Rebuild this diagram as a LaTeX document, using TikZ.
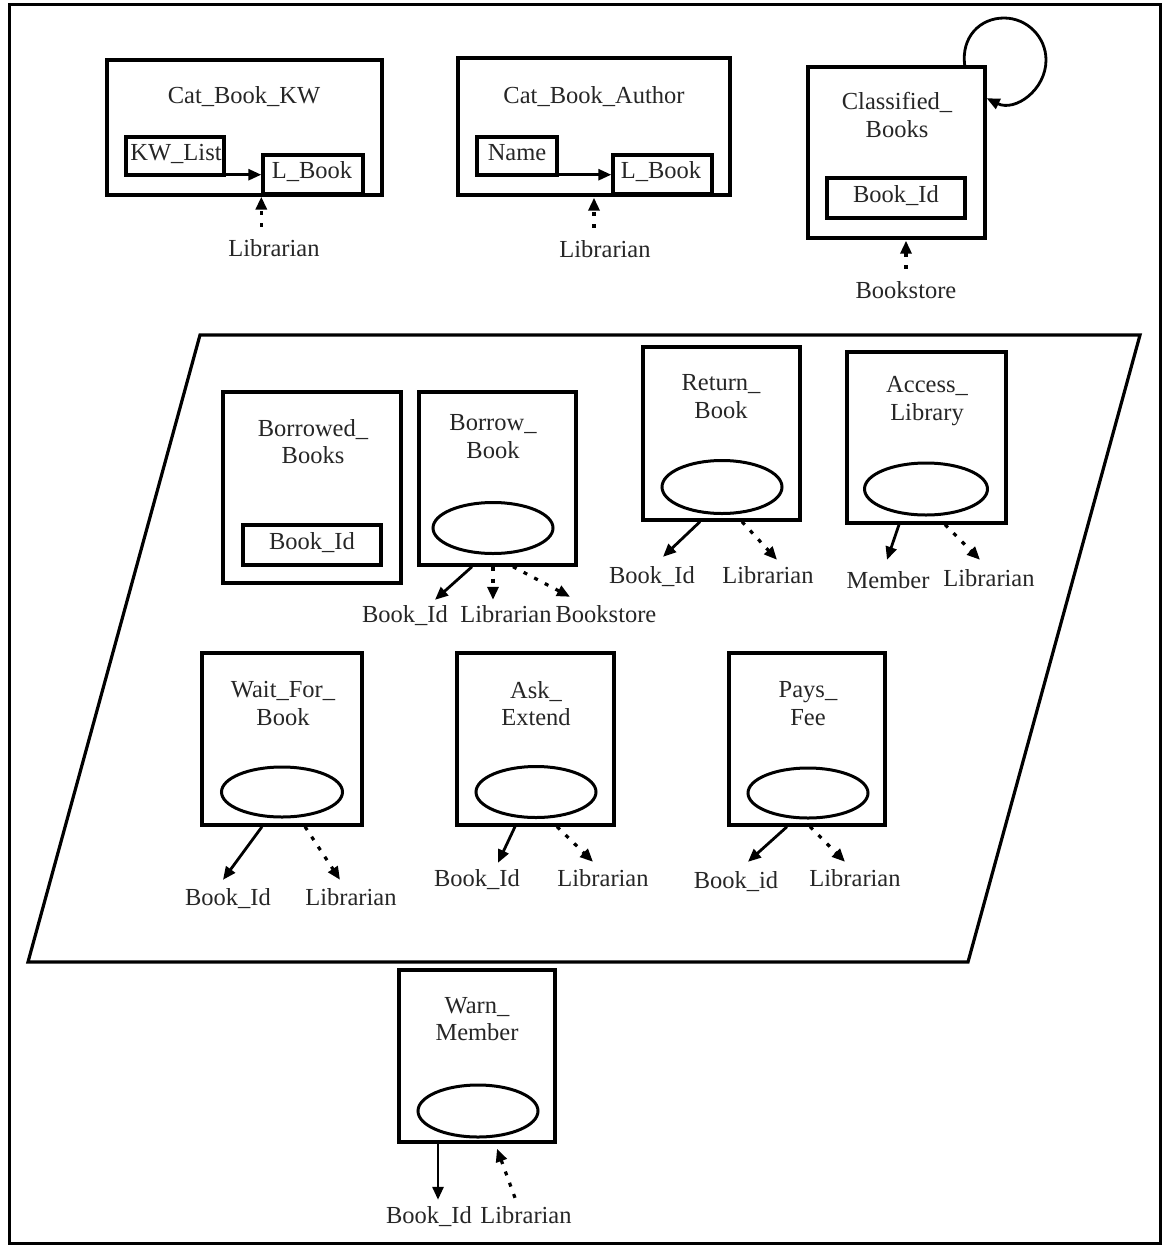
\documentclass[tikz,border=0pt]{standalone}
\usepackage{fontspec}
\setmainfont{Liberation Serif}
\usetikzlibrary{arrows.meta,shapes.geometric}
\begin{document}
\begin{tikzpicture}[x=1pt,y=-1pt,
  every node/.style={font=\fontsize{24.5}{27.5}\selectfont, text=black!85},
  box/.style={draw, line width=3.4pt, rectangle, inner sep=0pt},
  ell/.style={draw, line width=3pt, ellipse, inner sep=0pt},
  lbl/.style={anchor=base, inner sep=0pt},
  ttl/.style={align=center, inner sep=0pt},
  sarr/.style={line width=2.8pt, -{Triangle[length=13pt,width=11pt]}},
  darr/.style={line width=3.2pt, dash pattern=on 4pt off 8pt, -{Triangle[length=13pt,width=11pt]}},
  frame/.style={line width=3pt}
]
\useasboundingbox (0,0) rectangle (1164,1247);
\draw[frame] (9,5) rectangle (1160,1243);
\draw[line width=3.2pt, line join=miter] (200,335) -- (1140,335) -- (968,962) -- (28,962) -- cycle;

% ---------- Cat_Book_KW ----------
\node[box, minimum width=275pt, minimum height=135pt] (cbk) at (244.5,127.5) {};
\node[lbl] (cbkt) at (244,103) {Cat\_Book\_KW};
\node[box, minimum width=98pt, minimum height=38pt] (kwl) at (175,156) {};
\node[lbl] (kwlt) at (176,160) {KW\_List};
\node[box, minimum width=100pt, minimum height=39pt] (lb1) at (313,174.5) {};
\node[lbl] (lb1t) at (312,178) {L\_Book};
\draw[sarr] ([yshift=2pt]kwl.south east) -- ([yshift=2pt]kwl.south east -| lb1.west);
\node[lbl] (kwlib) at (274,256) {Librarian};
\draw[darr, shorten <=12pt, shorten >=1pt] (kwlib.north -| lb1.south west) -- (lb1.south west);

% ---------- Cat_Book_Author ----------
\node[box, minimum width=272pt, minimum height=137pt] (cba) at (594,126.5) {};
\node[lbl] (cbat) at (594,103) {Cat\_Book\_Author};
\node[box, minimum width=80pt, minimum height=38pt] (nm) at (517,156) {};
\node[lbl] (nmt) at (517,160) {Name};
\node[box, minimum width=99pt, minimum height=39pt] (lb2) at (662.5,174.5) {};
\node[lbl] (lb2t) at (661,178) {L\_Book};
\draw[sarr] ([yshift=2pt]nm.south east) -- ([yshift=2pt]nm.south east -| lb2.west);
\node[lbl] (lib2) at (605,257) {Librarian};
\draw[darr, shorten <=12pt, shorten >=1pt] (cba.south |- lib2.north) -- (cba.south);

% ---------- Classified_Books ----------
\node[box, minimum width=177pt, minimum height=171pt] (cb) at (896.5,152.5) {};
\node[ttl] (cbt) at (897,115) {Classified\_\\Books};
\node[box, minimum width=138pt, minimum height=40pt] (cbid) at (896,198) {};
\node[lbl] (cbidt) at (896,202) {Book\_Id};
\node[lbl] (bs) at (906,298) {Bookstore};
\draw[darr, shorten <=12pt, shorten >=1pt] (bs.north) -- (bs.north |- cb.south);
\draw[sarr] ([xshift=-22pt]cb.north east) .. controls (961,37) and (980,18) .. (1004,18)
  .. controls (1027,18) and (1046,37) .. (1046,60)
  .. controls (1046,90) and (1015,112) .. ([yshift=-33pt]cb.north east);

% ---------- Borrowed_Books ----------
\node[box, minimum width=178pt, minimum height=191pt] (bbs) at (312,487.5) {};
\node[ttl] (bbst) at (313,441.5) {Borrowed\_\\Books};
\node[box, minimum width=138pt, minimum height=40pt] (bbid) at (312,545) {};
\node[lbl] (bbidt) at (312,549) {Book\_Id};

% ---------- Borrow_Book ----------
\node[box, minimum width=157pt, minimum height=173pt] (bb) at (497.5,478.5) {};
\node[ttl] (bbt) at (493,436.5) {Borrow\_\\Book};
\node[ell, minimum width=120pt, minimum height=51pt] (bbe) at (493,528) {};
\node[lbl] (bbl1) at (405,622) {Book\_Id};
\node[lbl] (bbl2) at (506,622) {Librarian};
\node[lbl] (bbl3) at (606,622) {Bookstore};
\draw[sarr] ([xshift=-25.5pt]bb.south) -- ([xshift=30pt,yshift=5pt]bbl1.north);
\draw[darr] ([xshift=-4.5pt]bb.south) -- ([xshift=-13pt,yshift=5pt]bbl2.north);
\draw[darr] ([xshift=15.5pt]bb.south) -- ([xshift=-36pt,yshift=8pt]bbl3.north);

% ---------- Return_Book ----------
\node[box, minimum width=157pt, minimum height=173pt] (rb) at (721.5,433.5) {};
\node[ttl] (rbt) at (721,396.5) {Return\_\\Book};
\node[ell, minimum width=120pt, minimum height=53pt] (rbe) at (722,487) {};
\node[lbl] (rbl1) at (652,583) {Book\_Id};
\node[lbl] (rbl2) at (768,583) {Librarian};
\draw[sarr] ([xshift=-21.5pt]rb.south) -- ([xshift=11pt,yshift=9pt]rbl1.north);
\draw[darr] ([xshift=20.5pt]rb.south) -- ([xshift=9pt,yshift=6pt]rbl2.north);

% ---------- Access_Library ----------
\node[box, minimum width=159pt, minimum height=171pt] (al) at (926.5,437.5) {};
\node[ttl] (alt) at (927,401) {Access\_\\Library};
\node[ell, minimum width=123pt, minimum height=52pt] (ale) at (926,489) {};
\node[lbl] (all1) at (888,588) {Member};
\node[lbl] (all2) at (989,586) {Librarian};
\draw[sarr] ([xshift=-27.5pt]al.south) -- ([xshift=-1pt,yshift=11pt]all1.north);
\draw[darr] ([xshift=18.5pt]al.south) -- ([xshift=-9pt,yshift=9pt]all2.north);

% ---------- Wait_For_Book ----------
\node[box, minimum width=160pt, minimum height=172pt] (wfb) at (282,739) {};
\node[ttl] (wfbt) at (283,703.5) {Wait\_For\_\\Book};
\node[ell, minimum width=121pt, minimum height=50pt] (wfbe) at (282,792) {};
\node[lbl] (wfl1) at (228,905) {Book\_Id};
\node[lbl] (wfl2) at (351,905) {Librarian};
\draw[sarr] ([xshift=-20pt]wfb.south) -- ([xshift=-5pt,yshift=8pt]wfl1.north);
\draw[darr] ([xshift=23pt]wfb.south) -- ([xshift=-11pt,yshift=8pt]wfl2.north);

% ---------- Ask_Extend ----------
\node[box, minimum width=157pt, minimum height=172pt] (ae) at (535.5,739) {};
\node[ttl] (aet) at (536,703.5) {Ask\_\\Extend};
\node[ell, minimum width=120pt, minimum height=51pt] (aee) at (536,792) {};
\node[lbl] (ael1) at (477,886) {Book\_Id};
\node[lbl] (ael2) at (603,886) {Librarian};
\draw[sarr] ([xshift=-20.5pt]ae.south) -- ([xshift=21pt,yshift=6pt]ael1.north);
\draw[darr] ([xshift=21.5pt]ae.south) -- ([xshift=-10pt,yshift=7pt]ael2.north);

% ---------- Pays_Fee ----------
\node[box, minimum width=156pt, minimum height=172pt] (pf) at (807,739) {};
\node[ttl] (pft) at (808,703.5) {Pays\_\\Fee};
\node[ell, minimum width=120pt, minimum height=50pt] (pfe) at (808,793) {};
\node[lbl] (pfl1) at (736,888) {Book\_id};
\node[lbl] (pfl2) at (855,886) {Librarian};
\draw[sarr] ([xshift=-20pt]pf.south) -- ([xshift=12pt,yshift=9pt]pfl1.north);
\draw[darr] ([xshift=3pt]pf.south) -- ([xshift=-10pt,yshift=7pt]pfl2.north);

% ---------- Warn_Member ----------
\node[box, minimum width=156pt, minimum height=172pt] (wm) at (477,1056) {};
\node[ttl] (wmt) at (477,1019) {Warn\_\\Member};
\node[ell, minimum width=120pt, minimum height=52pt] (wme) at (478,1111) {};
\node[lbl] (wml1) at (429,1223) {Book\_Id};
\node[lbl] (wml2) at (526,1223) {Librarian};
\draw[sarr] ([xshift=-39pt]wm.south) -- ([xshift=9pt,yshift=6pt]wml1.north);
\draw[darr] ([xshift=-11pt,yshift=8pt]wml2.north) -- ([xshift=20pt,yshift=-5pt]wm.south);
\end{tikzpicture}
\end{document}
